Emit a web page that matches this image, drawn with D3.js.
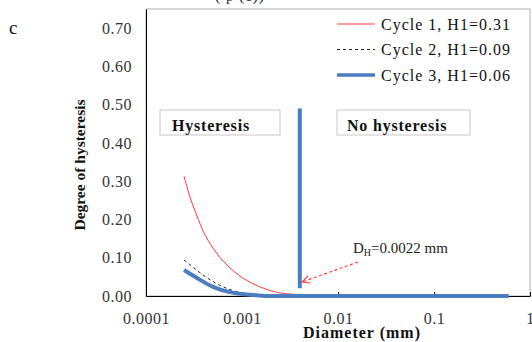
<!DOCTYPE html>
<html>
<head>
<meta charset="utf-8">
<script src="https://cdn.jsdelivr.net/npm/d3@7"></script>
<style>
  body { margin: 0; background: #fff; }
  text { font-family: "Liberation Serif", "Times New Roman", serif; }
</style>
</head>
<body>
<div id="chart"></div>
<script>
// data (diameter in mm, degree of hysteresis)
const cycle1 = [
  [0.000249, 0.313], [0.000287, 0.259], [0.00034, 0.209], [0.000392, 0.171],
  [0.000499, 0.125], [0.000698, 0.081], [0.00102, 0.047], [0.00165, 0.021],
  [0.00249, 0.008], [0.00383, 0.004]
];
const cycle2 = [
  [0.000249, 0.094], [0.0003, 0.078], [0.000392, 0.055], [0.0006, 0.027],
  [0.001, 0.008], [0.0013, 0.003], [0.0016, 0.001]
];
const cycle3 = [
  [0.000249, 0.068], [0.00034, 0.047], [0.000499, 0.024], [0.00075, 0.010],
  [0.001, 0.005], [0.0014, 0.002], [0.002, 0.0], [0.004, 0.0], [0.6, 0.0]
];
const dhLine = [[0.004, 0.02], [0.004, 0.49]];
const series = [
  { name: "Cycle 1, H1=0.31", data: cycle1, color: "#ff3b3b", width: 1, dash: null },
  { name: "Cycle 2, H1=0.09", data: cycle2, color: "#222", width: 1, dash: "3,3" },
  { name: "Cycle 3, H1=0.06", data: cycle3, color: "#4a7ebf", width: 4, dash: null }
];
const xTicks = [0.0001, 0.001, 0.01, 0.1, 1];
const xTickLabels = ["0.0001", "0.001", "0.01", "0.1", "1"];
const yTicks = [0, 0.1, 0.2, 0.3, 0.4, 0.5, 0.6, 0.7];

const margin = {top: 9, right: 2, bottom: 46, left: 146},
      width = 532 - margin.left - margin.right,
      height = 342 - margin.top - margin.bottom;

const root = d3.select("#chart").append("svg")
  .attr("width", 532).attr("height", 342);

const svg = root.append("g")
  .attr("transform", `translate(${margin.left},${margin.top})`);

const x = d3.scaleLog().domain([0.0001, 1]).range([0, width]);
const y = d3.scaleLinear().domain([0, 0.75]).range([height, 0]);

// plot frame
svg.append("rect")
  .attr("width", width).attr("height", height)
  .attr("fill", "none").attr("stroke", "#b0b0b0");

// axes
const xAxis = svg.append("g")
  .attr("transform", `translate(0,${height})`)
  .call(d3.axisBottom(x).tickValues(xTicks).tickFormat((d, i) => xTickLabels[i])
    .tickSizeInner(-4).tickSizeOuter(0).tickPadding(17));
xAxis.select(".domain").attr("stroke", "#000");
xAxis.selectAll("text").attr("font-size", 16).attr("fill", "#333")
  .attr("letter-spacing", 0.5)
  .style("font-family", "'Liberation Serif', serif");

const yAxis = svg.append("g")
  .call(d3.axisLeft(y).tickValues(yTicks).tickFormat(d3.format(".2f"))
    .tickSize(0).tickPadding(14));
yAxis.select(".domain").attr("stroke", "#000");
yAxis.selectAll("text").attr("font-size", 16).attr("fill", "#333")
  .attr("letter-spacing", 0.5)
  .style("font-family", "'Liberation Serif', serif");

// lines
const line = d3.line().x(d => x(d[0])).y(d => y(d[1])).curve(d3.curveMonotoneX);
svg.append("path").datum(dhLine)
  .attr("fill", "none").attr("stroke", "#4a7ebf").attr("stroke-width", 4)
  .attr("d", d3.line().x(d => x(d[0])).y(d => y(d[1])));
for (const s of series) {
  svg.append("path").datum(s.data)
    .attr("fill", "none")
    .attr("stroke", s.color)
    .attr("stroke-width", s.width)
    .attr("stroke-dasharray", s.dash)
    .attr("d", line);
}

// legend
const legend = root.append("g").attr("transform", "translate(337,24)");
series.forEach((s, i) => {
  const g = legend.append("g").attr("transform", `translate(0,${i * 25.5})`);
  g.append("line").attr("x1", 0).attr("x2", 38)
    .attr("stroke", s.color).attr("stroke-width", s.width === 4 ? 3.5 : 1)
    .attr("stroke-dasharray", s.dash);
  g.append("text").attr("x", 44).attr("y", 5.5)
    .attr("font-size", 16).attr("letter-spacing", 1).attr("fill", "#111").text(s.name);
});

// region boxes
const boxes = [
  { label: "Hysteresis", x: 160, w: 120, tx: 172 },
  { label: "No hysteresis", x: 337, w: 133, tx: 347 }
];
for (const b of boxes) {
  root.append("rect").attr("x", b.x).attr("y", 110).attr("width", b.w).attr("height", 25)
    .attr("fill", "#fff").attr("stroke", "#c8c8c8");
  root.append("text").attr("x", b.tx).attr("y", 131)
    .attr("font-size", 16).attr("letter-spacing", 0.8).attr("font-weight", "bold")
    .attr("fill", "#111").text(b.label);
}

// annotation
root.append("defs").append("marker")
  .attr("id", "arr").attr("viewBox", "0 0 10 10").attr("refX", 9).attr("refY", 5)
  .attr("markerWidth", 8).attr("markerHeight", 8).attr("orient", "auto")
  .append("path").attr("d", "M1,1 L9,5 L1,9").attr("fill", "none")
  .attr("stroke", "#ff3b3b").attr("stroke-width", 1.2);
root.append("line").attr("x1", 358).attr("y1", 262).attr("x2", 302).attr("y2", 282)
  .attr("stroke", "#ff3b3b").attr("stroke-width", 1.2).attr("stroke-dasharray", "3,2.5")
  .attr("marker-end", "url(#arr)");
const ann = root.append("text").attr("x", 353).attr("y", 253)
  .attr("font-size", 15).attr("fill", "#222");
ann.append("tspan").text("D");
ann.append("tspan").attr("font-size", 10).attr("dy", 3).text("H");
ann.append("tspan").attr("dy", -3).text("=0.0022 mm");

// axis titles
root.append("text").attr("x", 362).attr("y", 338).attr("text-anchor", "middle")
  .attr("font-size", 16).attr("letter-spacing", 1).attr("font-weight", "bold")
  .attr("fill", "#111").text("Diameter (mm)");
root.append("text").attr("transform", "translate(85,165) rotate(-90)").attr("text-anchor", "middle")
  .attr("font-size", 15.5).attr("font-weight", "bold").attr("fill", "#111").text("Degree of hysteresis");

// panel letter and clipped caption remnant
root.append("text").attr("x", 9).attr("y", 34).attr("font-size", 19).attr("fill", "#111").text("c");
root.append("text").attr("x", 240).attr("y", 1).attr("text-anchor", "middle")
  .attr("font-size", 15).attr("letter-spacing", 1).attr("fill", "#222").text("( p (c))");
</script>
</body>
</html>
